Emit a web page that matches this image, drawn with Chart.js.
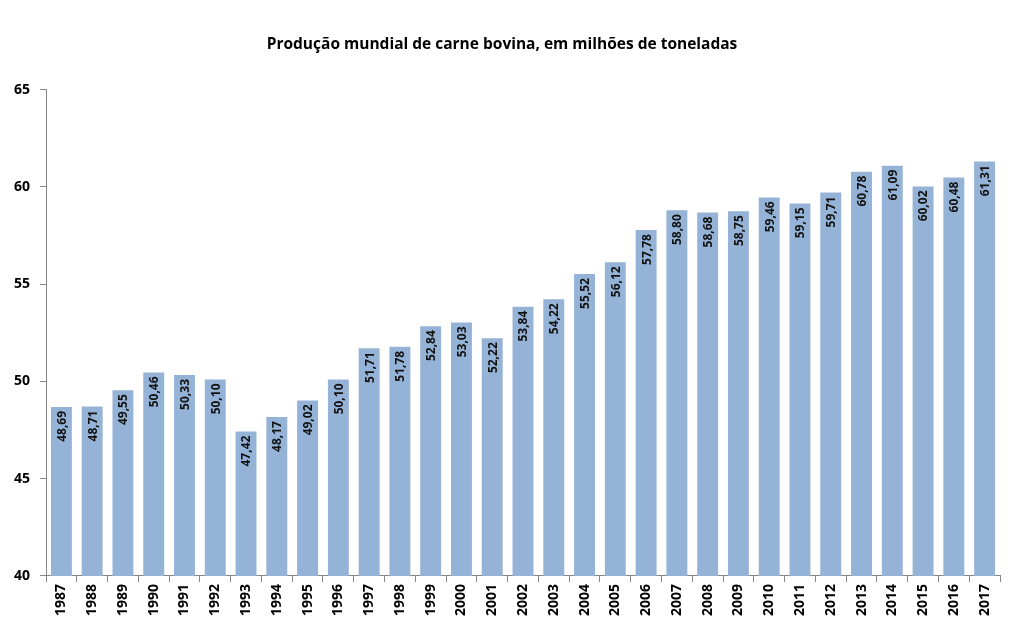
<!DOCTYPE html>
<html>
<head>
<meta charset="utf-8">
<script src="https://cdn.jsdelivr.net/npm/chart.js@4/dist/chart.umd.min.js"></script>
<style>
  html, body { margin: 0; padding: 0; background: #fff; }
  #wrap { width: 1013px; height: 632px; }
</style>
</head>
<body>
<div id="wrap"><canvas id="barChart" width="1013" height="632"></canvas></div>
<script>
var years = ['1987', '1988', '1989', '1990', '1991', '1992', '1993', '1994', '1995', '1996',
    '1997', '1998', '1999', '2000', '2001', '2002', '2003', '2004', '2005', '2006',
    '2007', '2008', '2009', '2010', '2011', '2012', '2013', '2014', '2015', '2016', '2017'];
var production = [48.69, 48.71, 49.55, 50.46, 50.33, 50.10, 47.42, 48.17, 49.02, 50.10,
    51.71, 51.78, 52.84, 53.03, 52.22, 53.84, 54.22, 55.52, 56.12, 57.78,
    58.80, 58.68, 58.75, 59.46, 59.15, 59.71, 60.78, 61.09, 60.02, 60.48, 61.31];
var yTicks = [40, 45, 50, 55, 60, 65];

var fontFamily = '"Open Sans", "Liberation Sans", sans-serif';

// rotated value labels just inside the top of each bar
var barLabels = {
    id: 'barLabels',
    afterDatasetsDraw: function (chart) {
        var ctx = chart.ctx;
        var meta = chart.getDatasetMeta(0);
        ctx.save();
        ctx.font = 'bold 12px ' + fontFamily;
        ctx.fillStyle = '#111';
        ctx.textAlign = 'right';
        ctx.textBaseline = 'middle';
        meta.data.forEach(function (bar, i) {
            var txt = production[i].toFixed(2).replace('.', ',');
            ctx.save();
            ctx.translate(bar.x + 1, bar.y + 4);
            ctx.rotate(-Math.PI / 2);
            ctx.fillText(txt, 0, 0);
            ctx.restore();
        });
        ctx.restore();
    }
};

var ctxBar = document.getElementById('barChart').getContext('2d');
var barChart = new Chart(ctxBar, {
    type: 'bar',
    data: {
        labels: years,
        datasets: [{
            label: 'Produção',
            data: production,
            backgroundColor: '#95b3d7',
            categoryPercentage: 1.0,
            barPercentage: 0.68
        }]
    },
    options: {
        responsive: false,
        animation: false,
        layout: { padding: { left: 4, right: 13, top: 0, bottom: 14 } },
        plugins: {
            legend: { display: false },
            tooltip: { enabled: false },
            title: {
                display: true,
                text: 'Produção mundial de carne bovina, em milhões de toneladas',
                color: '#000',
                font: { family: fontFamily, size: 15.5, weight: 'bold' },
                padding: { top: 35, bottom: 36 }
            }
        },
        scales: {
            x: {
                grid: { drawOnChartArea: false, tickLength: 6, color: '#868686' },
                border: { color: '#868686' },
                ticks: {
                    color: '#000',
                    font: { family: fontFamily, size: 14, weight: 'bold' },
                    minRotation: 90,
                    maxRotation: 90,
                    padding: 2,
                    autoSkip: false
                }
            },
            y: {
                min: 40,
                max: 65,
                afterBuildTicks: function (axis) {
                    axis.ticks = yTicks.map(function (v) { return { value: v }; });
                },
                grid: { drawOnChartArea: false, tickLength: 6, color: '#868686' },
                border: { color: '#868686' },
                ticks: {
                    color: '#000',
                    font: { family: fontFamily, size: 14, weight: 'bold' },
                    padding: 10
                }
            }
        }
    },
    plugins: [barLabels]
});
</script>
</body>
</html>
